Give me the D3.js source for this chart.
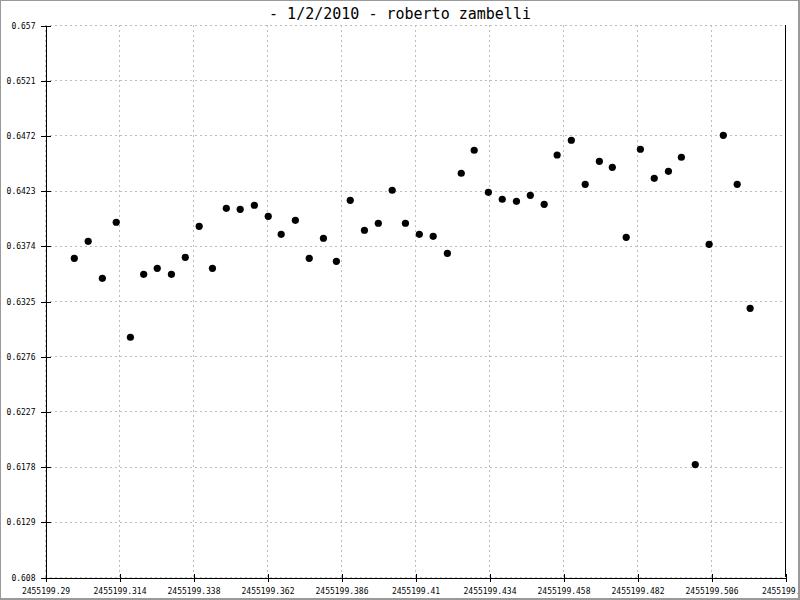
<!DOCTYPE html>
<html>
<head>
<meta charset="utf-8">
<script src="https://cdn.jsdelivr.net/npm/d3@7"></script>
<style>
  html, body { margin: 0; padding: 0; background: #fff; }
  svg { display: block; }
</style>
</head>
<body>
<svg id="chart" width="800" height="600"></svg>
<script>
const titleText = "- 1/2/2010 - roberto zambelli";

const xTickLabels = ["2455199.29", "2455199.314", "2455199.338", "2455199.362", "2455199.386",
  "2455199.41", "2455199.434", "2455199.458", "2455199.482", "2455199.506", "2455199.53"];
const yTickLabels = ["0.608", "0.6129", "0.6178", "0.6227", "0.6276", "0.6325",
  "0.6374", "0.6423", "0.6472", "0.6521", "0.657"];

const jd = [
  2455199.2995, 2455199.3040, 2455199.3086, 2455199.3131, 2455199.3177,
  2455199.3220, 2455199.3264, 2455199.3310, 2455199.3355, 2455199.3400,
  2455199.3443, 2455199.3488, 2455199.3533, 2455199.3579, 2455199.3624,
  2455199.3666, 2455199.3712, 2455199.3757, 2455199.3803, 2455199.3845,
  2455199.3890, 2455199.3936, 2455199.3981, 2455199.4026, 2455199.4069,
  2455199.4114, 2455199.4159, 2455199.4205, 2455199.4250, 2455199.4292,
  2455199.4338, 2455199.4383, 2455199.4429, 2455199.4474, 2455199.4519,
  2455199.4561, 2455199.4607, 2455199.4652, 2455199.4698, 2455199.4740,
  2455199.4785, 2455199.4831, 2455199.4876, 2455199.4922, 2455199.4964,
  2455199.5009, 2455199.5054, 2455199.5100, 2455199.5145, 2455199.5187
];
const flux = [
  0.63629, 0.63780, 0.63451, 0.63949, 0.62928,
  0.63487, 0.63540, 0.63487, 0.63638, 0.63913,
  0.63540, 0.64073, 0.64064, 0.64100, 0.64002,
  0.63842, 0.63966, 0.63629, 0.63807, 0.63602,
  0.64144, 0.63878, 0.63940, 0.64233, 0.63940,
  0.63842, 0.63824, 0.63673, 0.64384, 0.64588,
  0.64215, 0.64153, 0.64135, 0.64188, 0.64108,
  0.64546, 0.64677, 0.64286, 0.64490, 0.64437,
  0.63815, 0.64597, 0.64339, 0.64401, 0.64526,
  0.61798, 0.63753, 0.64721, 0.64286, 0.63185
];

const xTicks = xTickLabels.map(Number);
const yTicks = yTickLabels.map(Number);

const svg = d3.select("#chart");
const plotL = 45, plotR = 785, plotT = 25, plotB = 577;

const x = d3.scaleLinear().domain([xTicks[0], xTicks[xTicks.length - 1]]).range([plotL, plotR]);
const y = d3.scaleLinear().domain([yTicks[0], yTicks[yTicks.length - 1]]).range([plotB, plotT]);

const fontFam = "'DejaVu Sans Mono', 'Liberation Mono', monospace";

// Grid
const grid = svg.append("g").attr("shape-rendering", "crispEdges");
grid.selectAll("line.gx").data(xTicks).join("line")
  .attr("x1", d => Math.round(x(d)) + 0.5).attr("x2", d => Math.round(x(d)) + 0.5)
  .attr("y1", plotT).attr("y2", plotB)
  .attr("stroke", "#bdbdbd").attr("stroke-dasharray", "2,3");
grid.selectAll("line.gy").data(yTicks).join("line")
  .attr("y1", d => Math.round(y(d)) + 0.5).attr("y2", d => Math.round(y(d)) + 0.5)
  .attr("x1", plotL).attr("x2", plotR)
  .attr("stroke", "#bdbdbd").attr("stroke-dasharray", "2,3");

// Axes
function styleAxis(g) {
  g.attr("font-family", fontFam).attr("font-size", 8).attr("shape-rendering", "crispEdges");
  g.selectAll("path, line").attr("stroke", "#000");
  g.selectAll("text").attr("fill", "#000");
}

const yAxisL = d3.axisLeft(y).tickValues(yTicks).tickFormat((d, i) => yTickLabels[i])
  .tickSizeInner(5).tickSizeOuter(0).tickPadding(5);
svg.append("g").attr("transform", `translate(${plotL + 0.5},0.5)`).call(yAxisL).call(styleAxis);
const yAxisR = d3.axisRight(y).tickValues(yTicks).tickFormat("")
  .tickSizeInner(5).tickSizeOuter(0);
svg.append("g").attr("transform", `translate(${plotL + 0.5},0.5)`).call(yAxisR).call(styleAxis);

const xAxisB = d3.axisBottom(x).tickValues(xTicks).tickFormat((d, i) => xTickLabels[i])
  .tickSizeInner(4).tickSizeOuter(0).tickPadding(7);
svg.append("g").attr("transform", `translate(0.5,${plotB + 0.5})`).call(xAxisB).call(styleAxis);
const xAxisT = d3.axisTop(x).tickValues(xTicks).tickFormat("")
  .tickSizeInner(4).tickSizeOuter(0);
svg.append("g").attr("transform", `translate(0.5,${plotB + 0.5})`).call(xAxisT).call(styleAxis);

// Right border line of plot
svg.append("line")
  .attr("x1", plotR + 0.5).attr("x2", plotR + 0.5).attr("y1", plotT).attr("y2", plotB)
  .attr("stroke", "#000").attr("shape-rendering", "crispEdges");

// Points
svg.append("g").selectAll("circle").data(jd).join("circle")
  .attr("cx", (d, i) => x(d))
  .attr("cy", (d, i) => y(flux[i]))
  .attr("r", 3.6)
  .attr("fill", "#000");

// Title
svg.append("text")
  .attr("x", 400).attr("y", 19)
  .attr("text-anchor", "middle")
  .attr("font-family", fontFam)
  .attr("font-size", 15)
  .attr("fill", "#000")
  .text(titleText);

// Outer frame
const frame = svg.append("g").attr("shape-rendering", "crispEdges");
frame.append("rect").attr("x", 0.5).attr("y", 0.5).attr("width", 798).attr("height", 598)
  .attr("fill", "none").attr("stroke", "#9a9a9a");
frame.append("line").attr("x1", 799.5).attr("x2", 799.5).attr("y1", 0).attr("y2", 600)
  .attr("stroke", "#9a9a9a");
frame.append("line").attr("x1", 0).attr("x2", 800).attr("y1", 599.5).attr("y2", 599.5)
  .attr("stroke", "#9a9a9a");
</script>
</body>
</html>
